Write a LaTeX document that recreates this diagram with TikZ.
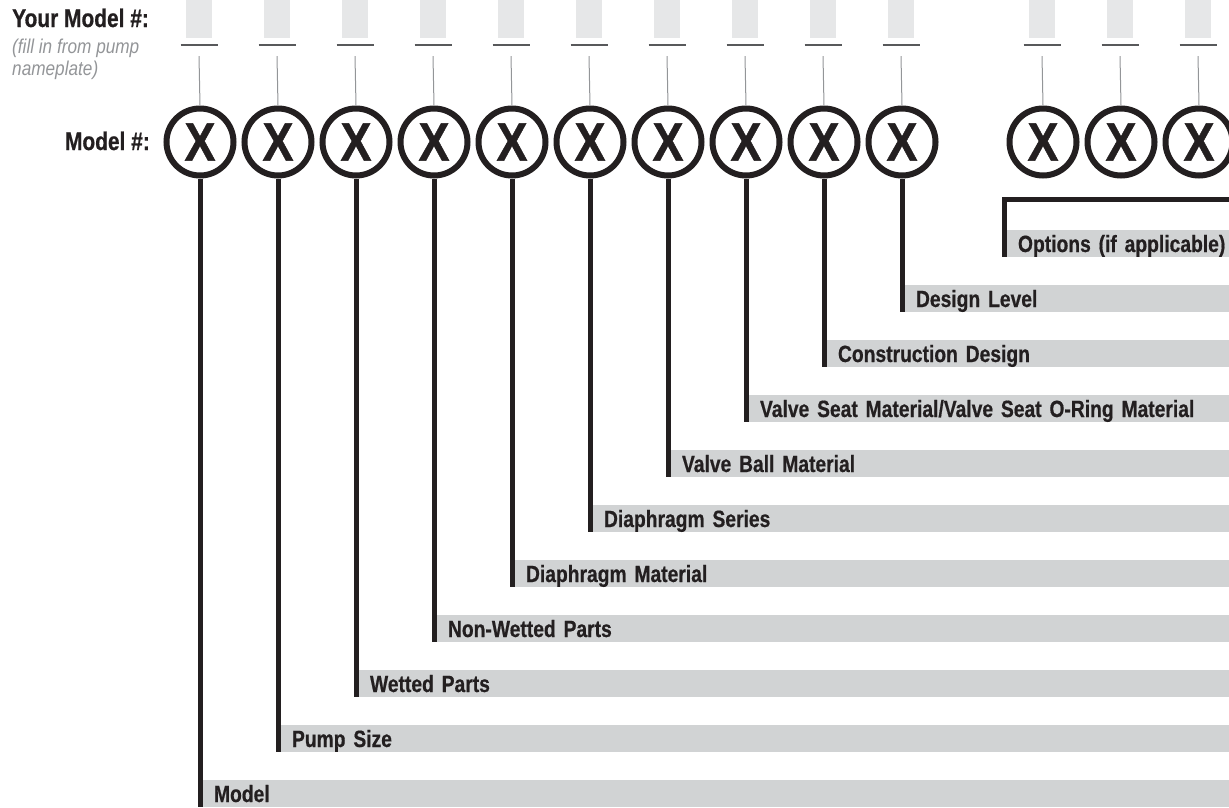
\documentclass[tikz,border=0pt]{standalone}
\usepackage{fontspec}
\usepackage{xcolor}
\usetikzlibrary{positioning}
\setmainfont{Liberation Sans}[FakeStretch=0.82, BoldFeatures={FakeBold=0.6}]
\newfontfamily\xfont{Liberation Sans}[FakeStretch=0.86, BoldFeatures={FakeBold=0.8}]
\newfontfamily\notefont{Liberation Sans}[FakeStretch=0.86]
\definecolor{inkdark}{RGB}{35,31,32}
\definecolor{barfill}{RGB}{209,211,212}
\definecolor{slotfill}{RGB}{230,231,232}
\definecolor{notegray}{RGB}{147,149,152}
\definecolor{dashgray}{RGB}{88,89,91}
\tikzstyle{digit}=[circle, draw=inkdark, line width=6pt, minimum size=67pt,
  inner sep=0pt, text=inkdark, font=\xfont\fontsize{54}{54}\selectfont\bfseries]
\tikzstyle{slot}=[rectangle, fill=slotfill, minimum width=26pt,
  minimum height=38pt, inner sep=0pt]
\tikzstyle{bar}=[rectangle, fill=barfill, anchor=south west, outer sep=0pt,
  minimum height=27pt, inner xsep=14pt, inner ysep=0pt, text height=22pt,
  text depth=5pt, align=left, text=inkdark,
  font=\fontsize{23.5}{25}\selectfont\bfseries]
\tikzstyle{stem}=[line width=5pt, draw=inkdark]
\tikzstyle{thinln}=[line width=1pt, draw=notegray]
\tikzstyle{dashln}=[line width=2pt, draw=dashgray]
\tikzstyle{title}=[inner sep=0pt, text=inkdark,
  font=\fontsize{25.5}{27}\selectfont\bfseries]
\tikzstyle{note}=[inner sep=0pt, anchor=base west, text=notegray,
  font=\notefont\fontsize{20}{22}\selectfont\itshape]

\begin{document}
\begin{tikzpicture}[x=1pt, y=1pt]
  \useasboundingbox (0,0) rectangle (1229,-807);

  % left hand labels
  \node[title, anchor=base west] (yours) at (12,-27) {Your Model \#:};
  \node[note] (fill1) at (12,-53) {(fill in from pump};
  \node[note] (fill2) at (12,-75) {nameplate)};
  \node[title, anchor=base east] (model) at (150,-150) {Model \#:};

  % write-in slots
  \node[slot] (s1) at (199,-19) {};
  \node[slot] (s2) at (277,-19) {};
  \node[slot] (s3) at (355,-19) {};
  \node[slot] (s4) at (433,-19) {};
  \node[slot] (s5) at (511,-19) {};
  \node[slot] (s6) at (589,-19) {};
  \node[slot] (s7) at (667,-19) {};
  \node[slot] (s8) at (745,-19) {};
  \node[slot] (s9) at (823,-19) {};
  \node[slot] (s10) at (901,-19) {};
  \node[slot] (s11) at (1042,-19) {};
  \node[slot] (s12) at (1120,-19) {};
  \node[slot] (s13) at (1198,-19) {};

  % model digits
  \node[digit] (c1) at (200,-142) {X};
  \node[digit] (c2) at (278,-142) {X};
  \node[digit] (c3) at (356,-142) {X};
  \node[digit] (c4) at (434,-142) {X};
  \node[digit] (c5) at (512,-142) {X};
  \node[digit] (c6) at (590,-142) {X};
  \node[digit] (c7) at (668,-142) {X};
  \node[digit] (c8) at (746,-142) {X};
  \node[digit] (c9) at (824,-142) {X};
  \node[digit] (c10) at (902,-142) {X};
  \node[digit] (c11) at (1043,-142) {X};
  \node[digit] (c12) at (1121,-142) {X};
  \node[digit] (c13) at (1199,-142) {X};

  % slot underlines and thin leaders
  \foreach \i in {1,...,13} {
    \draw[dashln] ([xshift=-18.5pt,yshift=-7pt]s\i.south) -- ++(37,0);
    \draw[thinln] ([yshift=-18pt]s\i.south) -- (c\i.north);
  }

  % legend bars
  \node[bar, text width=1001pt] (b1) at (200,-807) {Model};
  \node[bar, text width=923pt] (b2) at (278,-752) {Pump Size};
  \node[bar, text width=845pt] (b3) at (356,-697) {Wetted Parts};
  \node[bar, text width=767pt] (b4) at (434,-642) {Non-Wetted Parts};
  \node[bar, text width=689pt] (b5) at (512,-587) {Diaphragm Material};
  \node[bar, text width=611pt] (b6) at (590,-532) {Diaphragm Series};
  \node[bar, text width=533pt] (b7) at (668,-477) {Valve Ball Material};
  \node[bar, text width=455pt] (b8) at (746,-422)
    {Valve Seat Material/Valve Seat O-Ring Material};
  \node[bar, text width=377pt] (b9) at (824,-367) {Construction Design};
  \node[bar, text width=299pt] (b10) at (902,-312) {Design Level};
  \node[bar, text width=212pt] (b11) at (1004,-257) {Options (if applicable)};

  % stems
  \draw[stem] (c1.south) -- (b1.south west);
  \draw[stem] (c2.south) -- (b2.south west);
  \draw[stem] (c3.south) -- (b3.south west);
  \draw[stem] (c4.south) -- (b4.south west);
  \draw[stem] (c5.south) -- (b5.south west);
  \draw[stem] (c6.south) -- (b6.south west);
  \draw[stem] (c7.south) -- (b7.south west);
  \draw[stem] (c8.south) -- (b8.south west);
  \draw[stem] (c9.south) -- (b9.south west);
  \draw[stem] (c10.south) -- (b10.south west);
  \coordinate (optend) at (1229,-199);
  \draw[stem] (optend) -| (b11.south west);
\end{tikzpicture}
\end{document}
